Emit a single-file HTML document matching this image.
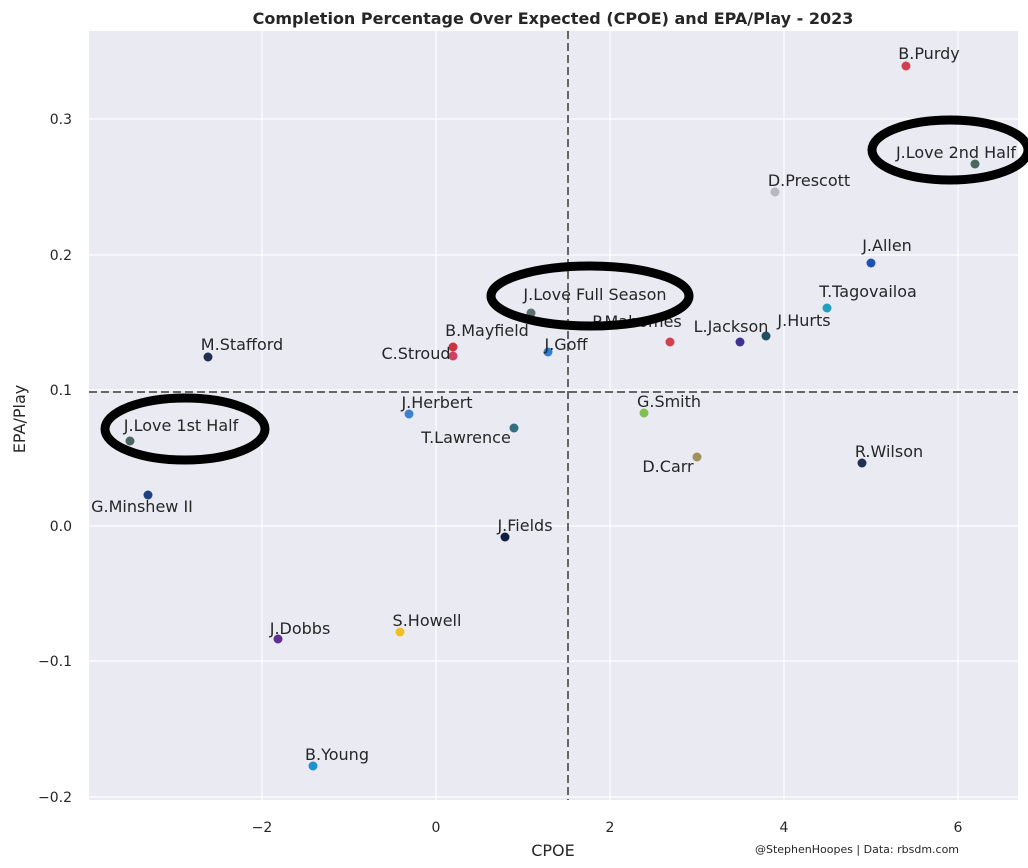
<!DOCTYPE html><html><head><style>body{margin:0;background:#fff}svg{display:block;font-family:"DejaVu Sans","Liberation Sans",sans-serif}</style></head><body>
<svg width="1028" height="868" viewBox="0 0 1028 868">
<rect x="89" y="31" width="929" height="769" fill="#eaeaf2"/>
<g stroke="#fff" stroke-width="1.2">
<line x1="262" y1="31" x2="262" y2="800"/><line x1="436" y1="31" x2="436" y2="800"/><line x1="610" y1="31" x2="610" y2="800"/><line x1="784" y1="31" x2="784" y2="800"/><line x1="958" y1="31" x2="958" y2="800"/>
<line x1="89" y1="119" x2="1018" y2="119"/><line x1="89" y1="255" x2="1018" y2="255"/><line x1="89" y1="390" x2="1018" y2="390"/><line x1="89" y1="526" x2="1018" y2="526"/><line x1="89" y1="661" x2="1018" y2="661"/><line x1="89" y1="797" x2="1018" y2="797"/>
</g>
<g stroke="#666" stroke-width="2" stroke-dasharray="8,4"><line x1="568" y1="31" x2="568" y2="800"/><line x1="89" y1="392" x2="1018" y2="392"/></g>
<g stroke-width="1" stroke-opacity="0.8">
<circle cx="906" cy="66" r="4.5" fill="#d04050"/><circle cx="975" cy="164" r="4.5" fill="#4a6860"/><circle cx="775" cy="192" r="4.5" fill="#b8b8c0"/><circle cx="871" cy="263" r="4.5" fill="#2050b0"/><circle cx="827" cy="308" r="4.5" fill="#20a0c0"/><circle cx="766" cy="336" r="4.5" fill="#205060"/><circle cx="740" cy="342" r="4.5" fill="#403090"/><circle cx="670" cy="342" r="4.5" fill="#d04050"/><circle cx="531" cy="313" r="4.5" fill="#5a6e6e"/><circle cx="548" cy="352" r="4.5" fill="#3080d0"/><circle cx="453" cy="347" r="4.5" fill="#d03040"/><circle cx="453" cy="356" r="4.5" fill="#d04060"/><circle cx="208" cy="357" r="4.5" fill="#203050"/><circle cx="409" cy="414" r="4.5" fill="#4080d0"/><circle cx="514" cy="428" r="4.5" fill="#307080"/><circle cx="644" cy="413" r="4.5" fill="#80c050"/><circle cx="697" cy="457" r="4.5" fill="#a09060"/><circle cx="862" cy="463" r="4.5" fill="#203050"/><circle cx="130" cy="441" r="4.5" fill="#4a6860"/><circle cx="148" cy="495" r="4.5" fill="#204080"/><circle cx="505" cy="537" r="4.5" fill="#102040"/><circle cx="278" cy="639" r="4.5" fill="#603090"/><circle cx="400" cy="632" r="4.5" fill="#f0c020"/><circle cx="313" cy="766" r="4.5" fill="#2090d0"/>
</g>
<g font-size="16" fill="#262626" text-anchor="middle">
<text x="929" y="59">B.Purdy</text><text x="956" y="158">J.Love 2nd Half</text><text x="809" y="186">D.Prescott</text><text x="887" y="251">J.Allen</text><text x="868" y="297">T.Tagovailoa</text><text x="804" y="326">J.Hurts</text><text x="731" y="332">L.Jackson</text><text x="637" y="327">P.Mahomes</text><text x="595" y="300">J.Love Full Season</text><text x="566" y="350">J.Goff</text><text x="487" y="336">B.Mayfield</text><text x="416" y="359">C.Stroud</text><text x="242" y="350">M.Stafford</text><text x="437" y="408">J.Herbert</text><text x="466" y="443">T.Lawrence</text><text x="669" y="407">G.Smith</text><text x="668" y="472">D.Carr</text><text x="889" y="457">R.Wilson</text><text x="181" y="431">J.Love 1st Half</text><text x="142" y="512">G.Minshew II</text><text x="525" y="531">J.Fields</text><text x="300" y="634">J.Dobbs</text><text x="427" y="626">S.Howell</text><text x="337" y="760">B.Young</text>
</g>
<g fill="none" stroke="#000" stroke-width="9"><ellipse cx="185" cy="429" rx="80" ry="31"/><ellipse cx="590" cy="296" rx="99" ry="30"/><ellipse cx="950" cy="150" rx="78" ry="30"/></g>
<g font-size="14" fill="#262626" text-anchor="middle">
<text x="262" y="832">−2</text><text x="436" y="832">0</text><text x="610" y="832">2</text><text x="784" y="832">4</text><text x="958" y="832">6</text>
</g>
<g font-size="14" fill="#262626" text-anchor="end">
<text x="72" y="124">0.3</text><text x="72" y="260">0.2</text><text x="72" y="395">0.1</text><text x="72" y="531">0.0</text><text x="72" y="666">−0.1</text><text x="72" y="802">−0.2</text>
</g>
<text x="553" y="856" font-size="16" fill="#262626" text-anchor="middle">CPOE</text>
<text x="25" y="419" font-size="16" fill="#262626" text-anchor="middle" transform="rotate(-90 25 419)">EPA/Play</text>
<text x="553" y="24" font-size="16" font-weight="bold" fill="#262626" text-anchor="middle">Completion Percentage Over Expected (CPOE) and EPA/Play - 2023</text>
<text x="857" y="853" font-size="11" fill="#262626" text-anchor="middle">@StephenHoopes | Data: rbsdm.com</text>
</svg></body></html>
